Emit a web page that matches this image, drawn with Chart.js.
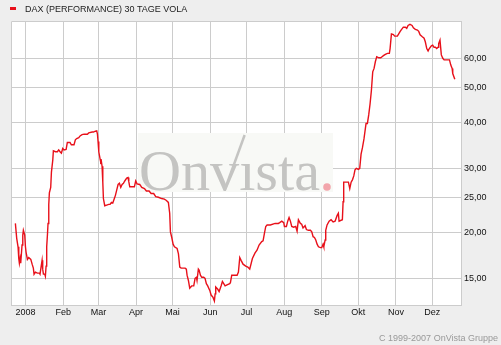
<!DOCTYPE html>
<html><head><meta charset="utf-8">
<script src="https://cdn.jsdelivr.net/npm/chart.js@4/dist/chart.umd.min.js"></script>
<style>html,body{margin:0;padding:0;background:#eeeeee;}#wrap{width:501px;height:345px;position:relative;}</style>
</head><body><div id="wrap"><canvas id="c" width="501" height="345"></canvas></div>
<script>
// days since 1 Jan 2008
const days = [-8.4,-7.3,-6.2,-5.6,-5.1,-4.5,-4.0,-2.9,-2.3,-1.8,-0.7,-0.1,0.4,1.5,2.6,4.3,5.4,6.4,7.0,8.1,9.7,11.4,11.9,13.0,13.6,14.1,14.7,15.8,16.3,16.9,17.4,18.0,18.5,19.1,19.6,20.7,21.3,22.4,22.9,24.6,26.2,27.3,28.4,29.5,30.6,31.7,33.4,34.4,36.6,37.7,39.9,41.0,42.1,43.8,44.9,46.5,48.2,50.9,52.0,54.8,55.9,57.5,58.6,59.2,59.7,60.3,61.4,61.9,62.4,63.0,63.6,64.1,65.2,66.8,68.5,69.6,70.7,71.8,72.9,74.0,75.1,76.2,77.3,78.4,79.5,80.6,81.7,83.3,84.4,85.0,85.8,89.6,90.7,91.8,94.0,95.7,97.9,99.5,101.7,103.4,105.5,107.2,109.4,112.1,114.3,116.0,117.6,118.7,119.3,120.4,121.5,122.6,124.8,125.9,127.0,128.1,131.4,132.4,133.0,134.1,135.2,136.8,138.5,139.6,140.7,141.2,142.3,142.9,144.0,145.1,146.7,147.8,148.9,150.0,151.7,152.8,154.4,155.5,156.1,156.6,158.3,159.4,161.0,162.1,163.2,164.3,165.9,168.1,168.7,169.8,171.4,174.2,175.3,176.4,177.5,179.1,181.3,183.0,184.6,186.8,189.0,190.6,192.3,194.5,195.6,196.7,197.8,198.9,201.6,205.5,208.2,209.3,211.0,212.6,213.2,214.8,215.9,217.0,218.1,219.2,220.8,222.5,223.6,224.7,226.3,227.4,228.5,230.2,231.3,232.9,234.6,235.7,236.8,237.9,239.0,240.1,241.2,242.8,243.9,245.0,245.6,246.7,247.2,248.3,250.0,251.6,253.3,254.9,256.6,257.6,258.2,260.9,261.5,262.0,264.8,265.9,267.0,268.1,269.2,270.3,271.3,272.4,274.1,275.2,276.3,277.4,278.7,280.4,281.5,282.6,283.7,284.8,285.9,287.0,288.1,289.2,290.9,292.5,293.6,294.7,296.3,298.0,299.6,300.2,301.3,302.9,304.0,306.2,307.3,308.4,309.4,311.1,312.8,313.9,315.0,316.6,318.3,319.4,321.0,322.7,323.8,324.9,326.5,328.2,329.2,330.4,331.5,332.5,334.2,335.3,336.4,337.5,338.6,339.7,340.2,341.3,341.9,342.4,343.6,344.7,349.1,350.2,351.3,351.8,353.5];
const vola = [21.2,19.3,18.3,17.0,16.5,17.0,16.5,18.5,19.7,20.3,19.7,18.3,17.7,16.9,17.1,16.9,16.4,16.0,15.4,15.6,15.5,15.5,15.4,16.3,16.8,15.9,15.4,15.4,15.2,16.2,18.3,19.7,21.2,23.9,25.7,26.6,29.3,31.6,33.5,33.3,33.3,33.7,33.3,33.0,34.0,33.7,33.8,35.3,35.3,34.8,34.8,35.9,36.2,36.4,36.8,37.1,37.2,37.2,37.5,37.7,37.7,37.9,38.0,37.2,35.5,33.3,31.8,31.2,31.4,30.4,27.5,24.8,23.7,23.8,23.9,23.9,24.2,24.1,24.7,25.3,26.2,27.1,27.3,26.6,27.1,27.3,27.7,28.2,28.3,27.6,26.7,26.7,27.7,27.2,27.1,26.6,26.4,26.0,26.0,25.6,25.6,25.1,25.0,24.8,24.7,24.5,24.2,22.6,20.1,19.4,18.6,18.3,18.1,17.5,16.1,16.0,16.0,15.9,15.3,14.8,14.1,14.3,14.3,15.0,15.1,14.8,15.9,15.8,15.3,15.1,15.1,15.0,14.5,14.3,13.9,13.5,13.3,13.0,13.6,14.2,14.0,13.8,14.3,14.7,14.5,14.3,14.4,14.5,14.6,15.3,15.3,15.3,15.6,17.1,16.8,16.4,16.2,16.1,15.9,17.0,17.6,17.9,18.5,18.9,19.0,19.9,20.8,21.0,21.0,21.2,21.2,21.3,21.5,21.3,20.8,20.8,21.5,22.0,21.5,20.8,20.7,20.8,20.2,21.7,21.2,21.1,20.6,20.9,20.4,20.3,20.3,20.1,19.5,19.4,19.1,18.6,18.3,18.2,18.2,18.6,18.3,19.1,20.3,21.0,21.5,21.7,21.4,21.5,22.3,22.6,21.5,21.7,24.3,27.5,27.5,27.5,26.4,27.5,27.9,28.6,29.7,30.0,29.8,30.0,32.8,34.1,36.1,39.8,39.8,42.0,45.0,49.0,55.1,56.3,58.8,60.6,60.2,60.2,60.6,61.0,61.5,61.9,61.9,63.8,70.0,69.7,69.0,69.0,70.0,71.0,71.8,73.0,73.0,72.5,73.8,74.3,73.8,72.7,72.0,71.7,71.1,69.6,68.8,68.1,66.6,63.8,62.8,63.8,64.9,65.2,64.3,64.3,63.8,64.3,65.8,67.3,64.0,61.3,60.0,59.4,59.4,57.5,56.3,54.5,52.6];
const monthTicks = [0,31,60,91,121,152,182,213,244,274,305,335];
const monthLabels = ['2008','Feb','Mar','Apr','Mai','Jun','Jul','Aug','Sep','Okt','Nov','Dez'];
const yTicks = [15,20,25,30,40,50,60];
const yLabels = ['15,00','20,00','25,00','30,00','40,00','50,00','60,00'];
const seriesName = 'DAX (PERFORMANCE) 30 TAGE VOLA';
const footer = 'C 1999-2007 OnVista Gruppe';

const FONT = '"Liberation Sans", Arial, sans-serif';
const GRID = '#cccccc';

const frame = {
  id: 'frame',
  beforeDraw(chart) {
    const {ctx, chartArea: a} = chart;
    ctx.save();
    ctx.fillStyle = '#eeeeee';
    ctx.fillRect(0, 0, chart.width, chart.height);
    ctx.fillStyle = '#ffffff';
    ctx.fillRect(a.left, a.top, a.right - a.left, a.bottom - a.top);
    ctx.restore();
  },
  beforeDatasetsDraw(chart) {
    const {ctx, chartArea: a} = chart;
    ctx.save();
    // border top and left
    ctx.strokeStyle = GRID; ctx.lineWidth = 1;
    ctx.beginPath();
    ctx.moveTo(Math.round(a.left) + 0.5, a.bottom);
    ctx.lineTo(Math.round(a.left) + 0.5, Math.round(a.top) + 0.5);
    ctx.lineTo(a.right, Math.round(a.top) + 0.5);
    ctx.stroke();
    // watermark
    ctx.fillStyle = '#f8f9f6';
    ctx.fillRect(138, 133, 195, 59);
    ctx.font = '56px "Liberation Serif", "DejaVu Serif", serif';
    ctx.fillStyle = '#c4c4c2';
    ctx.textBaseline = 'alphabetic';
    const txt = 'Onv\u0131sta';
    const w = ctx.measureText(txt).width;
    const sx = (320 - 139) / w;
    ctx.translate(139, 190);
    ctx.scale(sx, 1);
    ctx.fillText(txt, 0, 0);
    const wOnv = ctx.measureText('Onv').width;
    ctx.setTransform(1,0,0,1,0,0);
    ctx.strokeStyle = '#c4c4c2'; ctx.lineWidth = 2.5;
    const bx = 139 + (wOnv - 14) * sx;
    ctx.beginPath();
    ctx.moveTo(bx, 190);
    ctx.lineTo(bx + 20, 135);
    ctx.stroke();
    ctx.fillStyle = '#f2a5ab';
    ctx.beginPath(); ctx.arc(327, 187, 3.8, 0, Math.PI * 2); ctx.fill();
    ctx.restore();
  },
  afterDraw(chart) {
    const ctx = chart.ctx;
    ctx.save();
    ctx.fillStyle = '#e8101a';
    ctx.fillRect(10, 7, 6, 3);
    ctx.font = '9px ' + FONT;
    ctx.fillStyle = '#222222';
    ctx.textBaseline = 'middle';
    ctx.textAlign = 'left';
    ctx.fillText(seriesName, 25, 9.5);
    ctx.fillStyle = '#999999';
    ctx.textAlign = 'right';
    ctx.fillText(footer, 498, 339);
    ctx.restore();
  }
};

new Chart(document.getElementById('c'), {
  type: 'line',
  data: {
    datasets: [{
      label: seriesName,
      data: days.map((d, i) => ({x: d, y: vola[i]})),
      borderColor: '#e8101a',
      borderWidth: 1.4,
      pointRadius: 0,
      tension: 0,
      fill: false
    }]
  },
  options: {
    responsive: false,
    animation: false,
    events: [],
    layout: {padding: {left: 11, top: 21, right: 0, bottom: 0}},
    plugins: {legend: {display: false}, tooltip: {enabled: false}},
    scales: {
      x: {
        type: 'linear', bounds: 'data', min: -12, max: 358.6,
        afterBuildTicks: s => { s.ticks = monthTicks.map(v => ({value: v})); },
        afterFit: s => { s.height = 40; },
        grid: {color: GRID, lineWidth: 1, drawTicks: false},
        border: {display: true, color: GRID},
        ticks: {
          autoSkip: false, maxRotation: 0, padding: 2, color: '#111111',
          font: {family: FONT, size: 9},
          callback: v => monthLabels[monthTicks.indexOf(v)]
        }
      },
      y: {
        type: 'logarithmic', position: 'right', bounds: 'data', min: 12.68, max: 75.9,
        afterBuildTicks: s => { s.ticks = yTicks.map(v => ({value: v})); },
        afterFit: s => { s.width = 40; },
        grid: {color: GRID, lineWidth: 1, drawTicks: false},
        border: {display: true, color: GRID},
        ticks: {
          padding: 3, color: '#111111',
          font: {family: FONT, size: 9},
          callback: v => yLabels[yTicks.indexOf(v)]
        }
      }
    }
  },
  plugins: [frame]
});
</script></body></html>
